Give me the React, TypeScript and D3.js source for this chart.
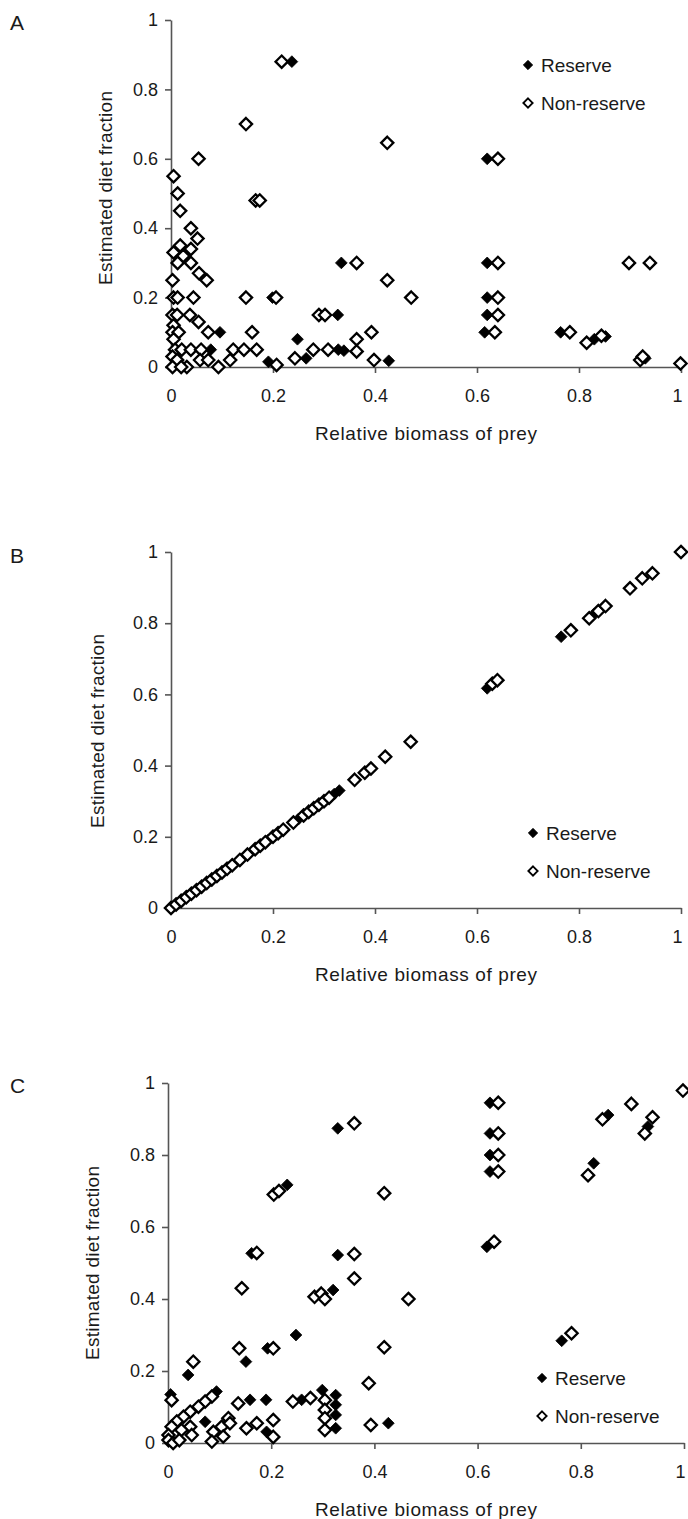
// App.tsx
import { useEffect, useRef } from "react";
import * as d3 from "d3";

type Pt = [number, number];

const TICKS = [0, 0.2, 0.4, 0.6, 0.8, 1];
const X_TITLE = "Relative biomass of prey";
const Y_TITLE = "Estimated diet fraction";
const LEGEND = ["Reserve", "Non-reserve"];

// Panel A: estimated diet fraction vs relative biomass
const reserveA: Pt[] = [
	[0.237, 0.88], [0.62, 0.6], [0.334, 0.3], [0.62, 0.3], [0.199, 0.2], [0.62, 0.2],
	[0.327, 0.15], [0.62, 0.15], [0.096, 0.1], [0.615, 0.1], [0.764, 0.1], [0.248, 0.08],
	[0.83, 0.08], [0.852, 0.088], [0.078, 0.05], [0.328, 0.05], [0.339, 0.047],
	[0.191, 0.015], [0.265, 0.025], [0.427, 0.018], [0.93, 0.025],
	[0.01, 0.05], [0.015, 0.1], [0.008, 0.15], [0.012, 0.2], [0.01, 0.02]
];
const nonReserveA: Pt[] = [
	[0.217, 0.88], [0.147, 0.7], [0.054, 0.6], [0.005, 0.55], [0.013, 0.5], [0.018, 0.45],
	[0.166, 0.48], [0.174, 0.48], [0.039, 0.4], [0.052, 0.37], [0.018, 0.35], [0.039, 0.34],
	[0.005, 0.33], [0.024, 0.32], [0.013, 0.3], [0.039, 0.3], [0.055, 0.27], [0.07, 0.25],
	[0.003, 0.25], [0.005, 0.2], [0.013, 0.2], [0.044, 0.2], [0.147, 0.2], [0.206, 0.2],
	[0.003, 0.15], [0.012, 0.15], [0.037, 0.15], [0.054, 0.13], [0.29, 0.15], [0.302, 0.15],
	[0.005, 0.12], [0.003, 0.1], [0.015, 0.1], [0.073, 0.1], [0.159, 0.1], [0.005, 0.08],
	[0.008, 0.05], [0.021, 0.05], [0.039, 0.05], [0.059, 0.05], [0.122, 0.05], [0.143, 0.05],
	[0.168, 0.05], [0.279, 0.05], [0.308, 0.05], [0.003, 0.03], [0.012, 0.02], [0.031, 0.0],
	[0.057, 0.02], [0.093, 0.0], [0.116, 0.02], [0.073, 0.02], [0.207, 0.006], [0.243, 0.025],
	[0.003, 0.0], [0.02, 0.0],
	[0.424, 0.646], [0.641, 0.6], [0.364, 0.3], [0.641, 0.3], [0.424, 0.25], [0.471, 0.2],
	[0.641, 0.2], [0.641, 0.15], [0.635, 0.1], [0.782, 0.1], [0.815, 0.07], [0.844, 0.09],
	[0.898, 0.3], [0.939, 0.3], [0.92, 0.02], [0.925, 0.03], [0.999, 0.01],
	[0.364, 0.08], [0.364, 0.045], [0.393, 0.1], [0.398, 0.02]
];

// Panel B: points sit on the 1:1 line
const reserveB: Pt[] = [
	[0.005, 0.005], [0.03, 0.03], [0.08, 0.08], [0.115, 0.115], [0.19, 0.19], [0.25, 0.25],
	[0.3, 0.3], [0.32, 0.32], [0.33, 0.33], [0.62, 0.617], [0.765, 0.762], [0.83, 0.826]
];
const nonReserveB: Pt[] = [
	[0, 0], [0.01, 0.01], [0.02, 0.02], [0.03, 0.03], [0.04, 0.04], [0.05, 0.05], [0.06, 0.06],
	[0.07, 0.07], [0.08, 0.08], [0.09, 0.09], [0.1, 0.1], [0.11, 0.11], [0.12, 0.12],
	[0.135, 0.135], [0.15, 0.15], [0.165, 0.165], [0.175, 0.175], [0.185, 0.185], [0.2, 0.2],
	[0.21, 0.21], [0.22, 0.22], [0.24, 0.24], [0.26, 0.26], [0.27, 0.27], [0.28, 0.28],
	[0.29, 0.29], [0.3, 0.3], [0.31, 0.31], [0.36, 0.36], [0.38, 0.38], [0.392, 0.392],
	[0.42, 0.425], [0.47, 0.467], [0.63, 0.63], [0.64, 0.64], [0.784, 0.78], [0.82, 0.814],
	[0.838, 0.834], [0.852, 0.848], [0.9, 0.898], [0.924, 0.926], [0.944, 0.94], [1.0, 1.0]
];

// Panel C
const reserveC: Pt[] = [
	[0.329, 0.874], [0.231, 0.717], [0.329, 0.522], [0.162, 0.527], [0.32, 0.425], [0.248, 0.3],
	[0.151, 0.226], [0.193, 0.263], [0.039, 0.189], [0.005, 0.135], [0.094, 0.143], [0.072, 0.059],
	[0.159, 0.12], [0.19, 0.12], [0.259, 0.12], [0.191, 0.031], [0.299, 0.147],
	[0.325, 0.133], [0.325, 0.106], [0.325, 0.078], [0.325, 0.041], [0.427, 0.055],
	[0.624, 0.945], [0.624, 0.86], [0.624, 0.8], [0.624, 0.754], [0.618, 0.545],
	[0.763, 0.284], [0.825, 0.777], [0.853, 0.911], [0.93, 0.879]
];
const nonReserveC: Pt[] = [
	[0.361, 0.888], [0.205, 0.69], [0.215, 0.7], [0.172, 0.528], [0.143, 0.43],
	[0.284, 0.406], [0.297, 0.415], [0.304, 0.4], [0.138, 0.263], [0.204, 0.263],
	[0.049, 0.226], [0.007, 0.119], [0.085, 0.129], [0.072, 0.115], [0.059, 0.101],
	[0.043, 0.087], [0.03, 0.073], [0.017, 0.06], [0.007, 0.045], [0.001, 0.022],
	[0.001, 0.008], [0.01, 0.0], [0.043, 0.045], [0.026, 0.036], [0.046, 0.022], [0.022, 0.008],
	[0.088, 0.031], [0.104, 0.045], [0.117, 0.069], [0.107, 0.018], [0.085, 0.004], [0.12, 0.055],
	[0.136, 0.11], [0.152, 0.041], [0.172, 0.055], [0.204, 0.064], [0.204, 0.017],
	[0.242, 0.115], [0.276, 0.125], [0.304, 0.119], [0.304, 0.092], [0.304, 0.069], [0.304, 0.036],
	[0.64, 0.945], [0.64, 0.86], [0.64, 0.8], [0.64, 0.754], [0.632, 0.559], [0.419, 0.694],
	[0.361, 0.525], [0.361, 0.457], [0.466, 0.4], [0.419, 0.266], [0.389, 0.166], [0.393, 0.05],
	[0.782, 0.305], [0.814, 0.744], [0.842, 0.899], [0.898, 0.942], [0.924, 0.86], [0.939, 0.905],
	[0.998, 0.979]
];

// layout of each panel (pixels)
const panels = [
	{ label: "A", labelY: 30, left: 171, right: 681, top: 20, bottom: 367, yTitleX: 112, yTitleY: 188, legX: 528, legY: 65, reserve: reserveA, nonReserve: nonReserveA },
	{ label: "B", labelY: 563, left: 171, right: 681, top: 552, bottom: 908, yTitleX: 104, yTitleY: 731, legX: 533, legY: 833, reserve: reserveB, nonReserve: nonReserveB },
	{ label: "C", labelY: 1093, left: 168, right: 684, top: 1083, bottom: 1443, yTitleX: 99, yTitleY: 1263, legX: 542, legY: 1378, reserve: reserveC, nonReserve: nonReserveC }
];

const FONT = "'Liberation Sans', Arial, Helvetica, sans-serif";
const INK = "#1a1a1a";
const AXIS = "#555";

export default function App() {
	const ref = useRef<SVGSVGElement>(null);

	useEffect(() => {
		const svg = d3.select(ref.current);
		svg.selectAll("*").remove();

		const fmt = (d: number) => (d === 0 ? "0" : d === 1 ? "1" : d.toFixed(1));
		const markerOpen = d3.symbol().type(d3.symbolDiamond2).size(96)();
		const markerFill = d3.symbol().type(d3.symbolDiamond2).size(88)();
		const markerLeg = d3.symbol().type(d3.symbolDiamond2).size(56)();

		panels.forEach(p => {
			const x = d3.scaleLinear().domain([0, 1]).range([p.left, p.right]);
			const y = d3.scaleLinear().domain([0, 1]).range([p.bottom, p.top]);
			const g = svg.append("g");

			// panel letter
			g.append("text")
				.attr("x", 10)
				.attr("y", p.labelY)
				.attr("font-size", "21px")
				.attr("font-family", FONT)
				.attr("fill", INK)
				.text(p.label);

			// axes
			const ax = g.append("g")
				.attr("transform", `translate(0,${p.bottom})`)
				.call(d3.axisBottom(x).tickValues(TICKS).tickFormat(d => fmt(+d)).tickSize(6).tickSizeOuter(0).tickPadding(16));
			const ay = g.append("g")
				.attr("transform", `translate(${p.left},0)`)
				.call(d3.axisLeft(y).tickValues(TICKS).tickFormat(d => fmt(+d)).tickSize(6).tickSizeOuter(0).tickPadding(7));

			[ax, ay].forEach(a => {
				a.select(".domain").attr("stroke", AXIS).attr("stroke-width", 1.6);
				a.selectAll(".tick line").attr("stroke", AXIS).attr("stroke-width", 1.6);
				a.selectAll(".tick text")
					.attr("font-size", "18px")
					.attr("font-family", FONT)
					.attr("fill", INK);
			});
			ax.selectAll(".tick").filter(d => d === 0).select("line").remove();
			// last label sits at the right edge, keep it inside the picture
			ax.selectAll(".tick").filter(d => d === 1).select("text").attr("text-anchor", "end").attr("dx", "0.05em");

			// axis titles
			g.append("text")
				.attr("x", (p.left + p.right) / 2)
				.attr("y", p.bottom + 73)
				.attr("text-anchor", "middle")
				.attr("font-size", "19px")
				.attr("font-family", FONT)
				.attr("fill", INK)
				.attr("textLength", 222)
				.text(X_TITLE);

			g.append("text")
				.attr("transform", `translate(${p.yTitleX},${p.yTitleY}) rotate(-90)`)
				.attr("text-anchor", "middle")
				.attr("font-size", "19px")
				.attr("font-family", FONT)
				.attr("fill", INK)
				.attr("textLength", 194)
				.text(Y_TITLE);

			// Reserve: filled diamonds (drawn first)
			g.selectAll(".res")
				.data(p.reserve)
				.enter()
				.append("path")
				.attr("d", markerFill)
				.attr("transform", d => `translate(${x(d[0])},${y(d[1])})`)
				.attr("fill", "#000")
				.attr("stroke", "#000")
				.attr("stroke-width", 0.8);

			// Non-reserve: open diamonds
			g.selectAll(".non")
				.data(p.nonReserve)
				.enter()
				.append("path")
				.attr("d", markerOpen)
				.attr("transform", d => `translate(${x(d[0])},${y(d[1])})`)
				.attr("fill", "#fff")
				.attr("stroke", "#000")
				.attr("stroke-width", 2.3);

			// legend
			const leg = g.append("g").attr("transform", `translate(${p.legX},${p.legY})`);
			LEGEND.forEach((name, i) => {
				leg.append("path")
					.attr("d", markerLeg)
					.attr("transform", `translate(0,${i * 38})`)
					.attr("fill", i === 0 ? "#000" : "#fff")
					.attr("stroke", "#000")
					.attr("stroke-width", i === 0 ? 0.8 : 1.8);
				leg.append("text")
					.attr("x", 13)
					.attr("y", i * 38 + 7)
					.attr("font-size", "19px")
					.attr("font-family", FONT)
					.attr("fill", INK)
					.text(name);
			});
		});
	}, []);

	return (
		<svg
			ref={ref}
			width={688}
			height={1519}
			style={{ position: "absolute", left: 0, top: 0, background: "#fff" }}
		/>
	);
}
